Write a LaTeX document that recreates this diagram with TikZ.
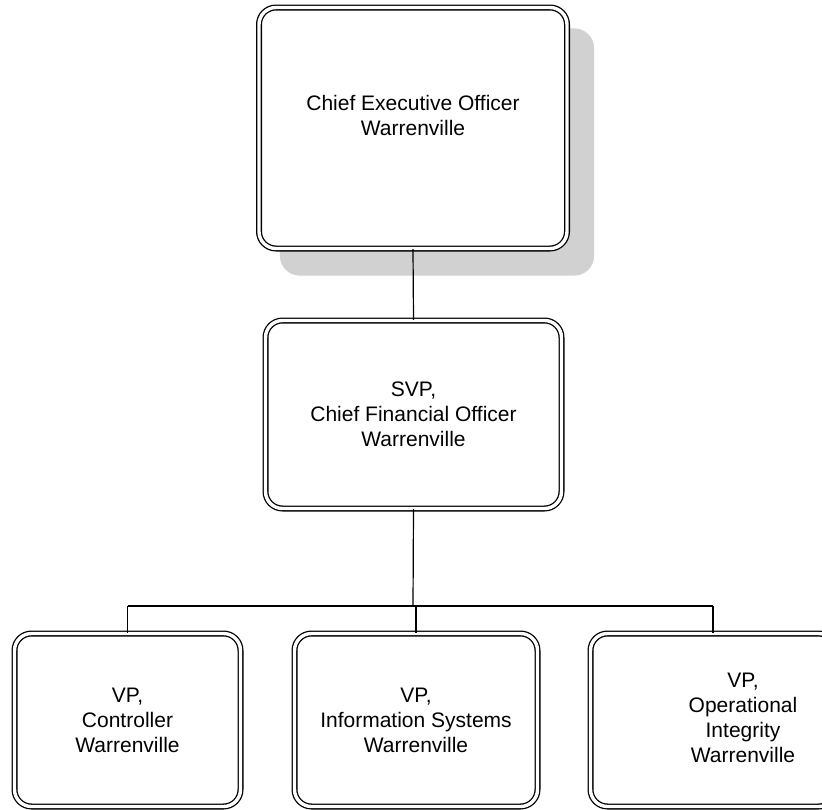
\documentclass[tikz,border=0pt]{standalone}
\usepackage{fontspec}
\setmainfont{Liberation Sans}
\begin{document}
\begin{tikzpicture}[x=1pt,y=-1pt,
  orgbox/.style={draw=black, line width=1.3pt, double=white, double distance=3.4pt,
    rounded corners=17pt, fill=white, align=center, inner sep=0pt,
    font=\fontsize{21}{25}\selectfont},
  orgtext/.style={align=center, inner sep=0pt, font=\fontsize{21}{25}\selectfont},
  link/.style={draw=black, line width=1.2pt}]
\useasboundingbox (0,0) rectangle (822,809);
\definecolor{shadowgray}{gray}{0.82}
% CEO
\node[orgbox, minimum width=308pt, minimum height=241pt, fill=none, draw=none] (ceoref) at (413,128) {};
\fill[shadowgray, rounded corners=20pt] ([shift={(21.5,21.5)}]ceoref.north west) rectangle ([shift={(26.5,26.5)}]ceoref.south east);
\node[orgbox, minimum width=308pt, minimum height=241pt] (ceo) at (413,128) {Chief Executive Officer\\Warrenville\\\mbox{}};
% CFO
\node[orgbox, minimum width=296pt, minimum height=188pt] (cfo) at (413.5,414.5) {SVP,\\Chief Financial Officer\\Warrenville};
% VPs
\node[orgbox, minimum width=226pt, minimum height=173pt] (ctrl) at (127.5,720) {VP,\\Controller\\Warrenville};
\node[orgbox, minimum width=243pt, minimum height=173pt] (info) at (416,720) {VP,\\Information Systems\\Warrenville};
\node[orgbox, minimum width=245pt, minimum height=173pt] (ops) at (713,720) {};
\node[orgtext] (opst) at (743,718) {VP,\\Operational\\Integrity\\Warrenville};
% connectors
\coordinate (bus) at (413,606);
\draw[link] (ceo.south) -- (cfo.north);
\draw[link] (cfo.south) -- (bus);
\draw[link] (ctrl.north |- bus) -- (ops.north |- bus);
\draw[link] (ctrl.north |- bus) -- (ctrl.north);
\draw[link] (info.north |- bus) -- (info.north);
\draw[link] (ops.north |- bus) -- (ops.north);
\end{tikzpicture}
\end{document}
